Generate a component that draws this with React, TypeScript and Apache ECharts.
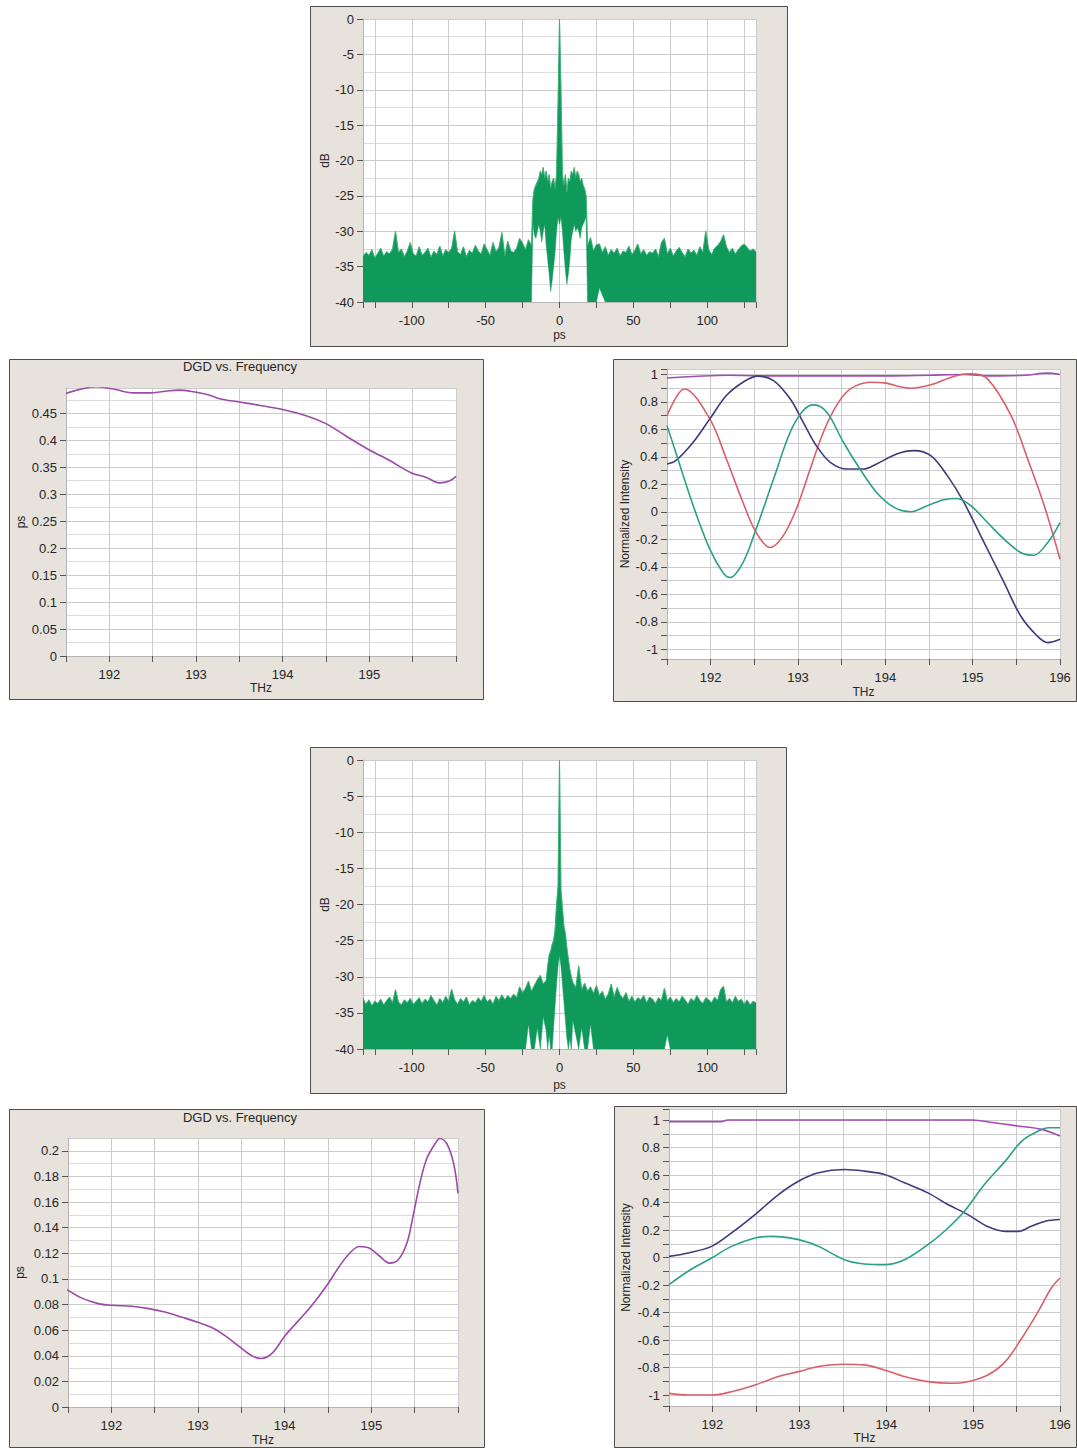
import React, { useEffect, useRef } from 'react';
import * as echarts from 'echarts';

// ---------------- Spectrum 1 (top) : dB vs ps ----------------
// noise floor sampled every 2 ps, centre every 1 ps
const spec1LeftStartPs = -133;
const spec1LeftDb = [
  -33.6, -33.0, -33.4, -32.6, -33.8, -33.1, -32.4, -33.5, -32.9, -33.2,
  -32.5, -30.0, -33.0, -32.5, -33.6, -32.8, -31.6, -33.2, -33.5, -32.2,
  -33.4, -33.0, -32.4, -33.7, -32.8, -33.3, -32.1, -33.5, -32.6, -33.0,
  -32.4, -30.0, -32.9, -33.3, -32.2, -33.6, -32.7, -33.1, -32.0, -32.8,
  -33.2, -31.8, -32.6, -33.4, -31.6, -32.9, -32.3, -30.2, -33.5, -31.4,
  -32.8, -33.0, -32.4, -31.0, -31.7, -32.6, -31.2, -32.0,
];
const spec1CenterStartPs = -18;
const spec1CenterTopDb = [
  -25.5, -24.0, -23.5, -23.0, -22.5, -21.5, -22.0, -21.0, -22.5, -21.5,
  -23.0, -22.0, -24.0, -23.0, -22.5, -24.0, -22.0, -12.0, 0, -10.0,
  -22.0, -23.5, -22.0, -24.5, -22.5, -23.0, -21.5, -22.0, -21.0, -22.5,
  -21.5, -22.0, -23.0, -22.5, -23.5, -24.0, -25.0,
];
const spec1CenterBottomDb = [
  -29, -30.5, -31, -30, -29, -30, -31.5, -30, -29, -32,
  -34, -36, -38.5, -37, -35, -33, -30, -28, -29, -28,
  -30, -33, -35.5, -37.5, -36, -34, -31, -30, -29, -30,
  -29.5, -30, -31, -29.5, -29, -28.5, -28,
];
const spec1RightStartPs = 19;
const spec1RightDb = [
  -32.0, -30.9, -32.8, -31.9, -31.8, -33.0, -32.2, -33.4, -32.6, -33.1,
  -32.4, -33.5, -32.8, -33.0, -32.1, -33.3, -32.7, -31.8, -33.2, -32.6,
  -33.4, -32.9, -33.1, -32.5, -33.6, -31.6, -31.0, -33.2, -32.4, -33.5,
  -32.8, -32.3, -33.0, -33.6, -32.5, -33.1, -32.7, -33.4, -32.2, -33.0,
  -30.0, -32.6, -33.3, -32.4, -32.0, -31.5, -30.5, -32.2, -33.0, -32.4,
  -33.2, -32.6, -32.1, -31.8, -32.3, -32.8, -32.5, -32.9,
];
// places where the noise minima stay above the -40 dB floor: [ps, dB]
const spec1Gaps: [number, number][] = [[27, -38], [29, -39]];

// ---------------- Spectrum 2 (bottom) ----------------
const spec2LeftStartPs = -133;
const spec2LeftDb = [
  -33.0, -33.8, -33.2, -34.0, -33.4, -33.7, -33.1, -33.9, -33.3, -32.8,
  -33.6, -31.8, -33.5, -33.9, -33.2, -33.6, -33.0, -33.8, -33.4, -32.9,
  -33.7, -33.1, -33.5, -32.6, -33.3, -33.9, -33.0, -33.6, -32.7, -33.4,
  -31.7, -33.2, -33.8, -33.0, -33.5, -32.8, -33.9, -33.3, -33.6, -32.9,
  -33.4, -32.6, -33.5, -33.1, -33.8, -32.7, -33.3, -32.5, -33.2, -32.6,
  -33.0, -32.4, -32.9, -31.4, -32.2, -31.6, -30.6, -32.0, -31.2, -30.4,
  -29.8, -31.0, -30.5,
];
const spec2CenterStartPs = -8;
const spec2CenterTopDb = [
  -28.5, -27, -26.5, -25.5, -25, -23.5, -20, -17.5, 0, -18,
  -20.5, -23, -24, -26, -27.5, -29, -30,
];
const spec2CenterBottomDb = [
  -40, -38, -40, -40, -37, -34, -31, -28.5, -27, -28.5,
  -31, -33.5, -36, -38.5, -40, -38.5, -40,
];
const spec2RightStartPs = 9;
const spec2RightDb = [
  -30.8, -31.5, -28.5, -31.8, -30.9, -32.0, -31.4, -32.3, -31.2, -32.6,
  -32.0, -33.1, -32.4, -31.0, -32.8, -31.5, -32.5, -33.0, -32.2, -33.4,
  -32.7, -33.5, -32.9, -33.2, -32.6, -33.6, -32.8, -33.1, -33.7, -32.9,
  -33.3, -31.6, -33.4, -32.8, -33.6, -33.0, -33.5, -32.7, -33.2, -33.8,
  -33.0, -33.4, -32.6, -33.3, -33.7, -32.9, -33.2, -33.6, -32.8, -33.3,
  -31.8, -31.3, -33.5, -33.0, -33.6, -32.7, -33.4, -33.1, -33.8, -33.2,
  -33.9, -33.4, -33.6,
];
const spec2Gaps: [number, number][] = [
  [-21, -36.5], [-15, -37], [-11, -35.5], [-9, -37.5],
  [9, -36], [11, -38], [15, -37], [21, -36.5], [73, -38],
];

// ---------------- DGD vs Frequency ----------------
const dgd1Thz = [191.5, 191.65, 191.85, 192.05, 192.27, 192.46, 192.65, 192.8, 192.97, 193.15, 193.27, 193.5, 193.73, 194.0, 194.28, 194.51, 194.73, 194.98, 195.23, 195.48, 195.66, 195.81, 195.93, 196.0];
const dgd1Ps = [0.487, 0.494, 0.4995, 0.495, 0.488, 0.488, 0.491, 0.493, 0.49, 0.484, 0.477, 0.471, 0.465, 0.457, 0.445, 0.43, 0.408, 0.384, 0.363, 0.34, 0.331, 0.321, 0.325, 0.333];

const dgd2Thz = [191.49, 191.66, 191.85, 192.0, 192.24, 192.43, 192.63, 192.82, 193.0, 193.17, 193.32, 193.47, 193.63, 193.73, 193.86, 194.0, 194.17, 194.32, 194.48, 194.63, 194.75, 194.86, 194.98, 195.1, 195.21, 195.31, 195.41, 195.48, 195.56, 195.64, 195.75, 195.79, 195.87, 195.95, 196.0];
const dgd2Ps = [0.0916, 0.085, 0.0807, 0.0794, 0.0786, 0.0768, 0.0739, 0.07, 0.0661, 0.0617, 0.0553, 0.0475, 0.0397, 0.0379, 0.0423, 0.0553, 0.0682, 0.0799, 0.0942, 0.1097, 0.12, 0.1253, 0.124, 0.1175, 0.1123, 0.1149, 0.1279, 0.1486, 0.1746, 0.194, 0.207, 0.2096, 0.2057, 0.19, 0.1668];

// ---------------- Normalized intensity (top) ----------------
const int1MagentaThz = [191.5, 191.8, 192.2, 192.6, 193.0, 193.5, 194.0, 194.5, 194.9, 195.2, 195.6, 195.85, 196.0];
const int1Magenta = [0.975, 0.985, 0.995, 0.99, 0.99, 0.99, 0.99, 0.995, 1.0, 0.99, 0.995, 1.01, 1.0];
const int1RedThz = [191.5, 191.7, 191.99, 192.18, 192.37, 192.52, 192.68, 192.83, 192.98, 193.14, 193.29, 193.44, 193.6, 193.83, 193.99, 194.29, 194.52, 194.79, 194.98, 195.17, 195.44, 195.63, 195.82, 196.0];
const int1Red = [0.7, 0.895, 0.677, 0.385, 0.069, -0.149, -0.259, -0.174, 0.021, 0.312, 0.58, 0.774, 0.895, 0.944, 0.939, 0.9, 0.925, 0.988, 1.005, 0.968, 0.7, 0.385, 0.045, -0.344];
const int1NavyThz = [191.5, 191.6, 191.8, 191.99, 192.18, 192.37, 192.54, 192.72, 192.91, 193.06, 193.21, 193.37, 193.56, 193.75, 193.9, 194.13, 194.33, 194.52, 194.71, 194.9, 195.13, 195.36, 195.55, 195.74, 195.86, 196.0];
const int1Navy = [0.349, 0.373, 0.507, 0.677, 0.847, 0.944, 0.988, 0.956, 0.823, 0.652, 0.482, 0.361, 0.312, 0.312, 0.349, 0.422, 0.446, 0.409, 0.264, 0.069, -0.222, -0.514, -0.757, -0.903, -0.951, -0.927];
const int1TealThz = [191.5, 191.6, 191.8, 191.99, 192.14, 192.22, 192.37, 192.52, 192.72, 192.91, 193.06, 193.18, 193.33, 193.52, 193.71, 193.9, 194.1, 194.29, 194.48, 194.67, 194.82, 194.98, 195.17, 195.36, 195.55, 195.7, 195.86, 196.0];
const int1Teal = [0.628, 0.434, 0.045, -0.271, -0.441, -0.477, -0.368, -0.125, 0.239, 0.58, 0.738, 0.779, 0.725, 0.507, 0.312, 0.142, 0.033, 0.001, 0.045, 0.089, 0.098, 0.045, -0.077, -0.198, -0.295, -0.315, -0.222, -0.077];

// ---------------- Normalized intensity (bottom) ----------------
const int2MagentaThz = [191.5, 192.1, 192.18, 193.0, 194.0, 194.98, 195.25, 195.52, 195.79, 196.0];
const int2Magenta = [0.988, 0.988, 1.0, 1.0, 1.0, 1.0, 0.98, 0.956, 0.932, 0.883];
const int2NavyThz = [191.5, 191.72, 191.99, 192.22, 192.49, 192.76, 192.99, 193.22, 193.52, 193.75, 193.98, 194.21, 194.48, 194.71, 194.94, 195.16, 195.37, 195.52, 195.67, 195.83, 196.0];
const int2Navy = [0.008, 0.033, 0.081, 0.179, 0.312, 0.458, 0.555, 0.616, 0.64, 0.628, 0.604, 0.543, 0.47, 0.385, 0.312, 0.227, 0.19, 0.19, 0.227, 0.264, 0.276];
const int2TealThz = [191.5, 191.72, 191.99, 192.22, 192.49, 192.68, 192.99, 193.22, 193.52, 193.75, 193.98, 194.21, 194.48, 194.67, 194.9, 195.13, 195.37, 195.56, 195.75, 195.87, 196.0];
const int2Teal = [-0.198, -0.1, -0.004, 0.081, 0.142, 0.154, 0.13, 0.081, -0.016, -0.047, -0.052, -0.016, 0.094, 0.191, 0.337, 0.531, 0.701, 0.847, 0.92, 0.944, 0.944];
const int2RedThz = [191.5, 191.72, 191.99, 192.22, 192.49, 192.76, 192.99, 193.22, 193.52, 193.75, 193.98, 194.21, 194.48, 194.75, 194.94, 195.17, 195.37, 195.56, 195.75, 195.9, 196.0];
const int2Red = [-0.988, -1.0, -1.0, -0.976, -0.927, -0.866, -0.83, -0.793, -0.776, -0.781, -0.818, -0.866, -0.903, -0.915, -0.903, -0.854, -0.757, -0.587, -0.392, -0.222, -0.149];

// ---------------- styling ----------------
const FONT = "'Liberation Sans', Arial, Helvetica, sans-serif";
const TEXT = '#262626';
const FRAME_BG = '#e7e2dc';
const FRAME_BORDER = '#4d4d4d';
const GRID_MAJOR = '#cccccc';
const GRID_MINOR = '#dedede';
const GREEN_FILL = '#0f995b';
const GREEN_LINE = '#3cb374';
const PURPLE = '#9c4aa9';
const MAGENTA = '#a54ab6';
const RED = '#d8606a';
const NAVY = '#3d3b7c';
const TEAL = '#2aa088';

type Spectrum = { ps: number[]; top: number[]; bottom: number[] };

function buildSpectrum(
  leftStart: number, left: number[],
  centerStart: number, centerTop: number[], centerBottom: number[],
  rightStart: number, right: number[], gaps: [number, number][],
): Spectrum {
  const ps: number[] = [];
  const top: number[] = [];
  const bottom: number[] = [];
  const floorAt = (x: number) => {
    const g = gaps.find((p) => p[0] === x);
    return g ? g[1] : -40;
  };
  left.forEach((v, i) => { const x = leftStart + 2 * i; ps.push(x); top.push(v); bottom.push(floorAt(x)); });
  centerTop.forEach((v, i) => { ps.push(centerStart + i); top.push(v); bottom.push(centerBottom[i]); });
  right.forEach((v, i) => { const x = rightStart + 2 * i; ps.push(x); top.push(v); bottom.push(floorAt(x)); });
  return { ps, top, bottom };
}

const pairs = (xs: number[], ys: number[]) => xs.map((x, i) => [x, ys[i]]);

const labelStyle = { color: TEXT, fontSize: 13, fontFamily: FONT };
const nameStyle = { color: TEXT, fontSize: 12, fontFamily: FONT };

function xAxisOpt(gridIndex: number, min: number, max: number, step: number,
  formatter: (v: number) => string, name: string, nameGap: number) {
  return {
    type: 'value', gridIndex, min, max, minInterval: step, maxInterval: step,
    name, nameLocation: 'middle', nameGap, nameTextStyle: nameStyle,
    axisLine: { show: true, onZero: false, lineStyle: { color: '#b5b5b5', width: 1 } },
    axisTick: { show: true, inside: false, length: 6, lineStyle: { color: '#555', width: 1 } },
    axisLabel: { ...labelStyle, margin: 12, formatter, showMinLabel: true, showMaxLabel: true },
    splitLine: { show: true, lineStyle: { color: GRID_MAJOR, width: 1 } },
    minorTick: { show: false },
    minorSplitLine: { show: false },
  };
}

function yAxisOpt(gridIndex: number, min: number, max: number, extra: any, name: string, nameGap: number) {
  return {
    type: 'value', gridIndex, min, max,
    name, nameLocation: 'middle', nameGap, nameRotate: 90, nameTextStyle: nameStyle,
    axisLine: { show: true, onZero: false, lineStyle: { color: '#b5b5b5', width: 1 } },
    axisTick: { show: true, inside: false, length: 6, lineStyle: { color: '#555', width: 1 } },
    splitLine: { show: true, lineStyle: { color: GRID_MAJOR, width: 1 } },
    ...extra,
    axisLabel: { ...labelStyle, margin: 9, ...(extra.axisLabel || {}) },
  };
}

const psLabel = (v: number) => (Math.abs(v % 50) < 1e-9 && Math.abs(v) < 130 ? String(v) : '');
const thzLabel = (maxShown: number) => (v: number) => {
  const r = Math.round(v);
  return Math.abs(v - r) < 1e-6 && r <= maxShown ? String(r) : '';
};
const intensityLabel = (v: number) => {
  const t = Math.round(v * 10);
  if (Math.abs(v * 10 - t) > 1e-6 || t % 2 !== 0) return '';
  return String(t / 10);
};

// filled band between the lower and upper envelope of the spectrum, drawn through the axes' scales
function bandSeries(axisIndex: number, spec: Spectrum) {
  return [
    {
      type: 'custom', xAxisIndex: axisIndex, yAxisIndex: axisIndex, silent: true, clip: true, z: 2,
      data: [[spec.ps[0], spec.top[0]]],
      encode: { x: 0, y: 1 },
      renderItem: (_params: any, api: any) => {
        const upper = spec.ps.map((x, i) => api.coord([x, spec.top[i]]));
        const lower = spec.ps.map((x, i) => api.coord([x, spec.bottom[i]])).reverse();
        return {
          type: 'polygon',
          shape: { points: upper.concat(lower) },
          style: { fill: GREEN_FILL, stroke: GREEN_FILL, lineWidth: 0.5 },
        };
      },
    },
    {
      type: 'line', xAxisIndex: axisIndex, yAxisIndex: axisIndex, z: 3,
      data: pairs(spec.ps, spec.top), showSymbol: false, symbol: 'none', silent: true,
      lineStyle: { width: 0.8, color: GREEN_LINE },
    },
  ];
}

function curve(axisIndex: number, xs: number[], ys: number[], color: string) {
  return {
    type: 'line', xAxisIndex: axisIndex, yAxisIndex: axisIndex, data: pairs(xs, ys),
    smooth: 0.35, showSymbol: false, symbol: 'none', silent: true,
    lineStyle: { width: 1.6, color },
  };
}

const frame = (x: number, y: number, w: number, h: number) => ({
  type: 'rect', z: -10, silent: true,
  shape: { x: x + 0.5, y: y + 0.5, width: w, height: h },
  style: { fill: FRAME_BG, stroke: FRAME_BORDER, lineWidth: 1 },
});

export default function App() {
  const ref = useRef<HTMLDivElement>(null);

  useEffect(() => {
    if (!ref.current) return;
    const chart = echarts.init(ref.current, undefined, { renderer: 'svg' });

    const spec1 = buildSpectrum(spec1LeftStartPs, spec1LeftDb, spec1CenterStartPs, spec1CenterTopDb,
      spec1CenterBottomDb, spec1RightStartPs, spec1RightDb, spec1Gaps);
    const spec2 = buildSpectrum(spec2LeftStartPs, spec2LeftDb, spec2CenterStartPs, spec2CenterTopDb,
      spec2CenterBottomDb, spec2RightStartPs, spec2RightDb, spec2Gaps);

    const gridBase = { show: true, backgroundColor: '#ffffff', borderWidth: 0, containLabel: false, outerBoundsMode: 'none' };

    const option: any = {
      animation: false,
      backgroundColor: '#ffffff',
      textStyle: { fontFamily: FONT },
      grid: [
        { ...gridBase, left: 363, top: 19, width: 393, height: 283 },   // A spectrum 1
        { ...gridBase, left: 66, top: 388, width: 390, height: 268 },   // B DGD 1
        { ...gridBase, left: 667, top: 369, width: 393, height: 290 },  // C intensity 1
        { ...gridBase, left: 363, top: 760, width: 393, height: 289 },  // D spectrum 2
        { ...gridBase, left: 68, top: 1138, width: 390, height: 269 },  // E DGD 2
        { ...gridBase, left: 669, top: 1109, width: 391, height: 297 }, // F intensity 2
      ],
      xAxis: [
        xAxisOpt(0, -133, 133, 25, psLabel, 'ps', 27),
        xAxisOpt(1, 191.5, 196, 0.5, thzLabel(195), 'THz', 25),
        xAxisOpt(2, 191.5, 196, 0.5, thzLabel(196), 'THz', 27),
        xAxisOpt(3, -133, 133, 25, psLabel, 'ps', 30),
        xAxisOpt(4, 191.5, 196, 0.5, thzLabel(195), 'THz', 27),
        xAxisOpt(5, 191.5, 196, 0.5, thzLabel(196), 'THz', 25),
      ],
      yAxis: [
        yAxisOpt(0, -40, 0, {
          interval: 5, minorTick: { show: false, splitNumber: 2 },
          minorSplitLine: { show: true, lineStyle: { color: GRID_MINOR, width: 1 } },
        }, 'dB', 31),
        yAxisOpt(1, 0, 0.497, {
          interval: 0.05, minorTick: { show: false, splitNumber: 2 },
          minorSplitLine: { show: true, lineStyle: { color: GRID_MINOR, width: 1 } },
          axisLabel: { showMaxLabel: false },
        }, 'ps', 39),
        yAxisOpt(2, -1.07, 1.04, {
          minInterval: 0.1, maxInterval: 0.1,
          axisLabel: { formatter: intensityLabel, showMinLabel: true, showMaxLabel: true },
        }, 'Normalized Intensity', 36),
        yAxisOpt(3, -40, 0, {
          interval: 5, minorTick: { show: false, splitNumber: 2 },
          minorSplitLine: { show: true, lineStyle: { color: GRID_MINOR, width: 1 } },
        }, 'dB', 31),
        yAxisOpt(4, 0, 0.21, {
          interval: 0.02, minorTick: { show: false, splitNumber: 2 },
          minorSplitLine: { show: true, lineStyle: { color: GRID_MINOR, width: 1 } },
          axisLabel: { showMaxLabel: false },
        }, 'ps', 42),
        yAxisOpt(5, -1.08, 1.08, {
          minInterval: 0.1, maxInterval: 0.1,
          axisLabel: { formatter: intensityLabel, showMinLabel: true, showMaxLabel: true },
        }, 'Normalized Intensity', 37),
      ],
      graphic: [
        frame(310, 6, 477, 340),
        frame(9, 359, 474, 340),
        frame(613, 359, 463, 342),
        frame(310, 747, 476, 346),
        frame(9, 1109, 475, 338),
        frame(614, 1106, 462, 341),
        {
          type: 'text', x: 240, y: 366, z: 10, silent: true,
          style: { text: 'DGD vs. Frequency', fill: TEXT, font: `13px ${FONT}`, textAlign: 'center', textVerticalAlign: 'middle' },
        },
        {
          type: 'text', x: 240, y: 1117, z: 10, silent: true,
          style: { text: 'DGD vs. Frequency', fill: TEXT, font: `13px ${FONT}`, textAlign: 'center', textVerticalAlign: 'middle' },
        },
      ],
      series: [
        ...bandSeries(0, spec1),
        curve(1, dgd1Thz, dgd1Ps, PURPLE),
        curve(2, int1MagentaThz, int1Magenta, MAGENTA),
        curve(2, int1RedThz, int1Red, RED),
        curve(2, int1NavyThz, int1Navy, NAVY),
        curve(2, int1TealThz, int1Teal, TEAL),
        ...bandSeries(3, spec2),
        curve(4, dgd2Thz, dgd2Ps, PURPLE),
        curve(5, int2MagentaThz, int2Magenta, MAGENTA),
        curve(5, int2NavyThz, int2Navy, NAVY),
        curve(5, int2TealThz, int2Teal, TEAL),
        curve(5, int2RedThz, int2Red, RED),
      ],
    };

    chart.setOption(option);
    return () => chart.dispose();
  }, []);

  return (
    <div
      ref={ref}
      style={{ position: 'absolute', left: 0, top: 0, width: 1077, height: 1448, background: '#ffffff' }}
    />
  );
}
